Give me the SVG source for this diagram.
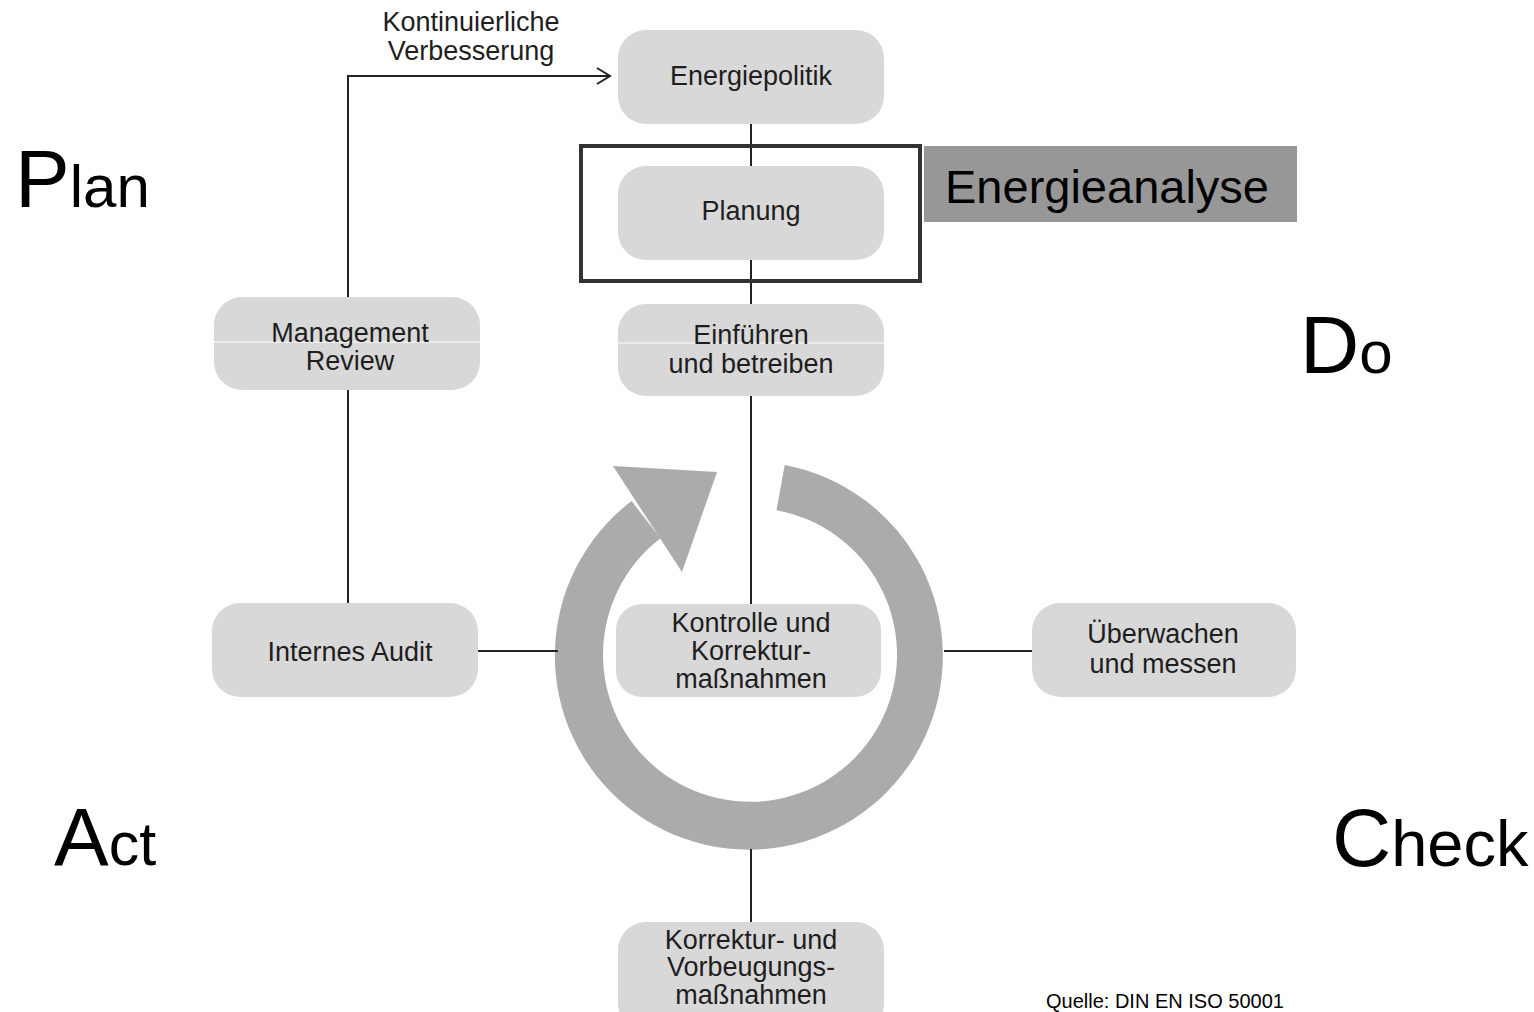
<svg xmlns="http://www.w3.org/2000/svg" width="1534" height="1012" viewBox="0 0 1534 1012">
<style>
.box{fill:#d8d8d8}
.t{font-family:"Liberation Sans",Arial,sans-serif;font-size:27px;fill:#1e1e1e;text-anchor:middle}
.big{font-family:"Liberation Sans",Arial,sans-serif;fill:#000}
.ln{stroke:#222;stroke-width:2;fill:none}
</style>
<rect width="1534" height="1012" fill="#fff"/>
<g id="cycle">
<path d="M 784.7 465.0 A 194 194 0 1 1 631.6 501.1 L 660.5 538.2 A 147 147 0 1 0 776.5 510.2 Z" fill="#ababab"/>
<polygon points="613,466 717,472 682,572" fill="#ababab"/>
</g>
<g id="connectors">
<line class="ln" x1="751" y1="124" x2="751" y2="166"/>
<line class="ln" x1="751" y1="260" x2="751" y2="304"/>
<line class="ln" x1="751" y1="396" x2="751" y2="604"/>
<line class="ln" x1="751" y1="849" x2="751" y2="922"/>
<line class="ln" x1="478" y1="651" x2="558" y2="651"/>
<line class="ln" x1="944" y1="651" x2="1032" y2="651"/>
<line class="ln" x1="348" y1="390" x2="348" y2="603"/>
<polyline class="ln" points="348,297 348,76 609,76"/>
<polyline class="ln" points="597,68 610,76 597,84"/>
</g>
<g id="label-kv">
<text class="t" x="471" y="31">Kontinuierliche</text>
<text class="t" x="471" y="60">Verbesserung</text>
</g>
<g id="energiepolitik">
<rect class="box" x="618" y="30" width="266" height="94" rx="28"/>
<text class="t" x="751" y="85">Energiepolitik</text>
</g>
<g id="planung">
<rect class="box" x="618" y="166" width="266" height="94" rx="28"/>
<text class="t" x="751" y="220">Planung</text>
</g>
<g id="highlight">
<rect x="581" y="146" width="339" height="135" fill="none" stroke="#333" stroke-width="4"/>
</g>
<g id="energieanalyse">
<rect x="924" y="146" width="373" height="76" fill="#979797"/>
<text class="big" x="945" y="203" font-size="47">Energieanalyse</text>
</g>
<g id="einfuehren">
<rect class="box" x="618" y="304" width="266" height="92" rx="28"/>
<line x1="618" y1="343" x2="884" y2="343" stroke="#fff" stroke-width="1"/>
<text class="t" x="751" y="344">Einführen</text>
<text class="t" x="751" y="373">und betreiben</text>
</g>
<g id="management-review">
<rect class="box" x="214" y="297" width="266" height="93" rx="28"/>
<line x1="214" y1="342" x2="480" y2="342" stroke="#fff" stroke-width="1"/>
<text class="t" x="350" y="342">Management</text>
<text class="t" x="350" y="370">Review</text>
</g>
<g id="internes-audit">
<rect class="box" x="212" y="603" width="266" height="94" rx="28"/>
<text class="t" x="350" y="661">Internes Audit</text>
</g>
<g id="kontrolle">
<rect class="box" x="616" y="604" width="265" height="93" rx="26"/>
<text class="t" x="751" y="632">Kontrolle und</text>
<text class="t" x="751" y="660">Korrektur-</text>
<text class="t" x="751" y="688">maßnahmen</text>
</g>
<g id="ueberwachen">
<rect class="box" x="1032" y="603" width="264" height="94" rx="28"/>
<text class="t" x="1163" y="643">Überwachen</text>
<text class="t" x="1163" y="673">und messen</text>
</g>
<g id="korrektur">
<rect class="box" x="618" y="922" width="266" height="110" rx="28"/>
<text class="t" x="751" y="949">Korrektur- und</text>
<text class="t" x="751" y="976">Vorbeugungs-</text>
<text class="t" x="751" y="1004">maßnahmen</text>
</g>
<g id="pdca">
<text class="big" x="15" y="207" font-size="82">P<tspan font-size="60">lan</tspan></text>
<text class="big" x="1300" y="373" font-size="82">D<tspan font-size="60">o</tspan></text>
<text class="big" x="54" y="865" font-size="82">A<tspan font-size="61">ct</tspan></text>
<text class="big" x="1332" y="866" font-size="82">C<tspan font-size="65">heck</tspan></text>
</g>
<text class="big" x="1046" y="1008" font-size="20">Quelle: DIN EN ISO 50001</text>
</svg>
